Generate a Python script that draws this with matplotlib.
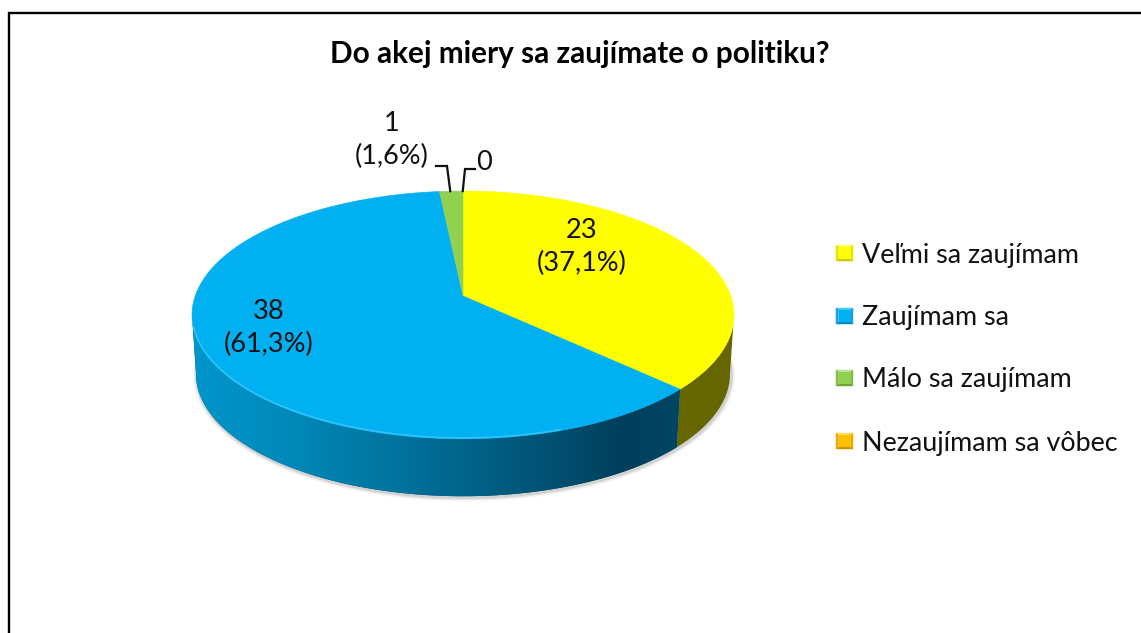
#!/usr/bin/env python3
# Do akej miery sa zaujimate o politiku - 3D pie, drawn in pixel coordinates

import numpy as np
import matplotlib
matplotlib.use("Agg")
import matplotlib.pyplot as plt
from matplotlib.colors import LinearSegmentedColormap
from matplotlib.patches import Polygon

title = "Do akej miery sa zaujímate o politiku?"
categories = ["Veľmi sa zaujímam", "Zaujímam sa", "Málo sa zaujímam", "Nezaujímam sa vôbec"]
counts = [23, 38, 1, 0]
percents = ["37,1%", "61,3%", "1,6%", "0%"]

top_colors = ["#FFFF00", "#00B0F0", "#92D050", "#FFC000"]
wall_colors = ["#666600", "#004664", "#4F7A28", "#8A6A00"]
dark_colors = ["#C8C800", "#0088BC", "#6EA83C", "#CC9400"]
light_colors = ["#FFFF60", "#40CCFF", "#B8E498", "#FFDC60"]
side_colors = ["#E6E600", "#18A0E0", "#82BC48", "#E8AC00"]

plt.rcParams["font.family"] = ["Lato", "DejaVu Sans"]

# pie geometry: perspective view of a circle
cx, cy = 463, 296
rx, ry = 267.8, 121
k = 0.153
depth = 59.5
shrink = 0.985


def project(t, drop=0, s=1.0):
    u = np.sin(t)
    v = -np.cos(t)
    w = 1 - k * v
    return cx + s * rx * u / w, cy + drop + s * ry * v / w


fig = plt.figure(figsize=(11.41, 6.33), dpi=100)
ax = fig.add_axes([0, 0, 1, 1])
ax.set_xlim(0, 1141)
ax.set_ylim(633, 0)
ax.axis("off")

# frame, open at right and bottom
ax.plot([9.2, 9.2, 1141], [633, 13.2, 13.2], color="black", lw=1.7, solid_joinstyle="miter", zorder=1)

fractions = np.array(counts) / sum(counts)
edges = np.concatenate([[0], np.cumsum(fractions)]) * 2 * np.pi

# soft shadow along the lower rim
ts = np.linspace(np.pi * 0.42, np.pi * 1.56, 200)
sx, sy = project(ts, depth, shrink)
for lw, a in [(6, 0.05), (4, 0.09), (2.5, 0.14)]:
    ax.plot(sx + 1, sy + 1, color="#555555", alpha=a, lw=lw, zorder=2)

# side walls, cut at the widest points of the rim so the outline closes
all_t = np.linspace(0, 2 * np.pi, 2000)
all_x, _ = project(all_t)
t_right = all_t[np.argmax(all_x)]
t_left = all_t[np.argmin(all_x)]
for i in [0, 1]:
    ts = np.linspace(max(edges[i], t_right), min(edges[i + 1], t_left), 200)
    x1, y1 = project(ts)
    x2, y2 = project(ts[::-1], depth, shrink)
    wall = Polygon(np.column_stack([np.r_[x1, x2], np.r_[y1, y2]]), closed=True,
                   facecolor=wall_colors[i], edgecolor="none", zorder=3)
    ax.add_patch(wall)
    if i == 1:
        cmap = LinearSegmentedColormap.from_list(
            "wall", [(0, "#0096CC"), (0.2, "#0088B8"), (0.45, "#00709A"),
                     (0.75, "#004F70"), (0.88, "#003F5C"), (1, "#004664")])
        grad = ax.imshow(np.linspace(0, 1, 500).reshape(1, -1), cmap=cmap, aspect="auto",
                         extent=[192, 682, 500, 300], zorder=3.5)
        grad.set_clip_path(wall)
ax.set_xlim(0, 1141)
ax.set_ylim(633, 0)

# top faces
for i in range(len(counts)):
    if counts[i] == 0:
        continue
    ts = np.linspace(edges[i], edges[i + 1], 200)
    x, y = project(ts)
    ax.add_patch(Polygon(np.column_stack([np.r_[cx, x], np.r_[cy, y]]), closed=True,
                         facecolor=top_colors[i], edgecolor=top_colors[i], lw=0.4, zorder=4))

# bevel highlight on the blue rim
ts = np.linspace(np.pi * 0.9, edges[2] * 0.72, 200)
x, y = project(ts)
ax.plot(x, y - 1, color="#40CCFF", lw=1.2, alpha=0.7, zorder=5)

# leader lines
mid = (edges[2] + edges[3]) / 2
x0, y0 = project(mid)
ax.plot([436, 447, x0 - 1], [166, 166, y0], color="#111111", lw=1.6, solid_joinstyle="miter", zorder=6)
x0, y0 = project(edges[4] - 0.001)
ax.plot([475, 465, x0], [169, 169, y0], color="#111111", lw=1.6, solid_joinstyle="miter", zorder=6)

# data labels
label_pos = [(582, 247), (269, 328), (392, 140)]
for i in range(3):
    ax.text(label_pos[i][0], label_pos[i][1], f"{counts[i]}\n({percents[i]})", ha="center", va="center",
            fontsize=19.5, color="#111111", linespacing=1.36, zorder=7)
ax.text(484, 162, str(counts[3]), ha="center", va="center", fontsize=19.5, color="#111111", zorder=7)

ax.text(580, 54, title, ha="center", va="center", fontsize=21.4, fontweight="bold", color="black")

# legend
legend_y = [253, 316, 378, 441]
hw, hh, inner = 8.5, 8, 6
for yy, label, c, d, l, s in zip(legend_y, categories, top_colors, dark_colors, light_colors, side_colors):
    xx = 844.5
    o = [(xx - hw, yy - hh), (xx + hw, yy - hh), (xx + hw, yy + hh), (xx - hw, yy + hh)]
    n = [(xx - inner, yy - inner), (xx + inner, yy - inner), (xx + inner, yy + inner), (xx - inner, yy + inner)]
    faces = [(l, 0), (s, 1), (d, 2), (s, 3)]
    for col, j in faces:
        j2 = (j + 1) % 4
        ax.add_patch(Polygon([o[j], o[j2], n[j2], n[j]], closed=True, facecolor=col, edgecolor=col, lw=0.3, zorder=6))
    ax.add_patch(Polygon(n, closed=True, facecolor=c, edgecolor="none", zorder=7))
    ax.text(862, yy + 2, label, ha="left", va="center", fontsize=19.4, color="#111111")

fig.savefig("out.png", dpi=100)
